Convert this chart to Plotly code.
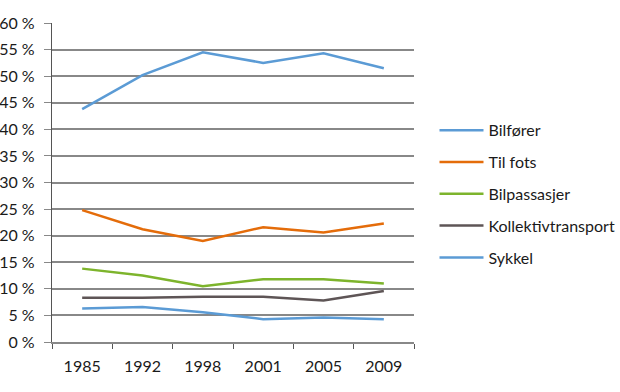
import plotly.graph_objects as go

years = ["1985", "1992", "1998", "2001", "2005", "2009"]
bilforer = [43.8, 50.2, 54.5, 52.5, 54.3, 51.5]
til_fots = [24.8, 21.2, 19.0, 21.6, 20.6, 22.3]
bilpassasjer = [13.8, 12.5, 10.5, 11.8, 11.8, 11.0]
kollektiv = [8.3, 8.3, 8.5, 8.5, 7.8, 9.6]
sykkel = [6.3, 6.6, 5.6, 4.3, 4.6, 4.3]

series_names = ["Bilfører", "Til fots", "Bilpassasjer", "Kollektivtransport", "Sykkel"]
series_vals = [bilforer, til_fots, bilpassasjer, kollektiv, sykkel]
colors = ["#5B9BD5", "#E46C0A", "#7DB42C", "#5E5556", "#5B9BD5"]

y_ticks = list(range(0, 61, 5))
y_labels = [f"{v} %" for v in y_ticks]

font = "Lato, Open Sans, sans-serif"

fig = go.Figure()
for i, (name, vals, col) in enumerate(zip(series_names, series_vals, colors)):
    fig.add_trace(go.Scatter(
        x=years, y=vals, name=name, mode="lines",
        line=dict(color=col, width=2.5),
        legendgroup=f"g{i}",
    ))

fig.update_layout(
    width=620, height=392,
    margin=dict(l=52, r=206, t=23, b=50, autoexpand=False),
    paper_bgcolor="white", plot_bgcolor="white",
    font=dict(family=font, size=16, color="#1a1a1a"),
    showlegend=True,
    legend=dict(
        xref="container", x=0.7008, y=0.717, xanchor="left", yanchor="top",
        traceorder="grouped", tracegroupgap=8,
        font=dict(family=font, size=16, color="#1a1a1a"),
        itemwidth=44,
    ),
    xaxis=dict(
        type="category", range=[-0.5, 5.5], tickson="boundaries",
        ticks="outside", ticklen=5, automargin=False,
        tickcolor="#555555", showgrid=False, showline=True,
        linecolor="#888888", linewidth=1.5, zeroline=False,
        tickfont=dict(family=font, size=16), ticklabelstandoff=9,
    ),
    yaxis=dict(
        range=[0, 60], tickvals=y_ticks, ticktext=y_labels,
        ticks="outside", ticklen=7, tickcolor="#888888", automargin=False,
        showgrid=True, gridcolor="#888888", gridwidth=1.5,
        showline=True, linecolor="#555555", linewidth=1.2,
        zeroline=False, tickfont=dict(family=font, size=16),
        ticklabelstandoff=6,
    ),
)

fig.write_html(
    "out.html",
    config={"displayModeBar": False},
    post_script="document.body.style.margin='0';document.body.style.overflow='hidden';",
)
